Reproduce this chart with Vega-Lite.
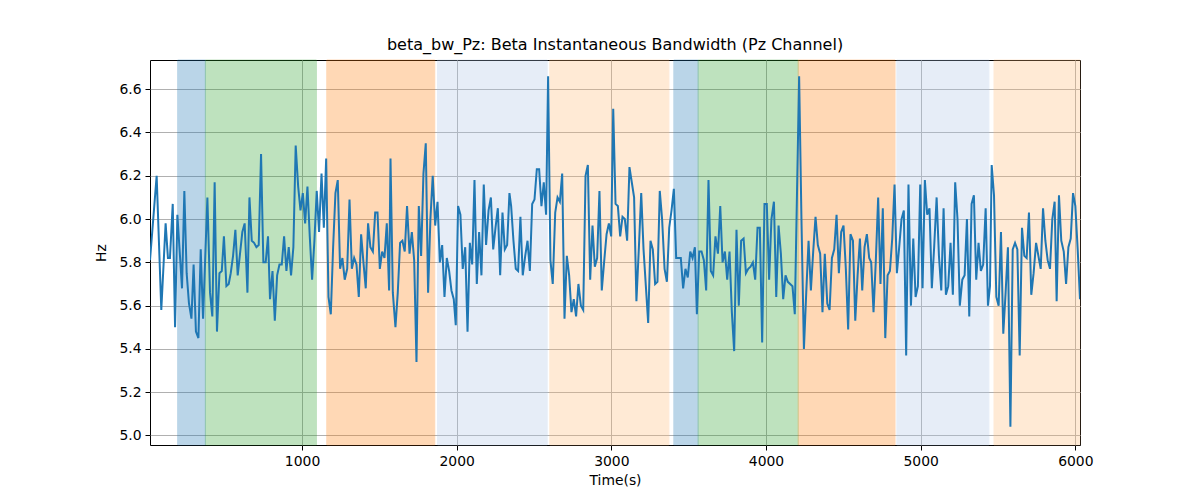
{
  "$schema": "https://vega.github.io/schema/vega-lite/v6.json",
  "width": 930,
  "height": 385,
  "autosize": {"type": "none"},
  "padding": {"left": 150, "top": 60, "right": 120, "bottom": 55},
  "background": "white",
  "title": {
    "text": "beta_bw_Pz: Beta Instantaneous Bandwidth (Pz Channel)",
    "font": "DejaVu Sans",
    "fontSize": 16,
    "fontWeight": "normal",
    "color": "black",
    "offset": 7
  },
  "datasets": {
    "spans": [
      {"start": 196, "end": 375, "band": "b1"},
      {"start": 375, "end": 1093, "band": "g1"},
      {"start": 1160, "end": 1858, "band": "o1"},
      {"start": 1876, "end": 2585, "band": "lb1"},
      {"start": 2602, "end": 3372, "band": "lo1"},
      {"start": 3404, "end": 3561, "band": "b2"},
      {"start": 3561, "end": 4208, "band": "g2"},
      {"start": 4208, "end": 4834, "band": "o2"},
      {"start": 4846, "end": 5441, "band": "lb2"},
      {"start": 5474, "end": 6030, "band": "lo2"}
    ],
    "series": [
      {"t": 17, "v": 5.81}, {"t": 60, "v": 6.20}, {"t": 90, "v": 5.58}, {"t": 118, "v": 5.98},
      {"t": 133, "v": 5.82}, {"t": 146, "v": 5.82}, {"t": 164, "v": 6.07}, {"t": 179, "v": 5.50},
      {"t": 194, "v": 6.02}, {"t": 224, "v": 5.68}, {"t": 239, "v": 6.13}, {"t": 254, "v": 5.75},
      {"t": 269, "v": 5.61}, {"t": 285, "v": 5.54}, {"t": 299, "v": 5.79}, {"t": 314, "v": 5.48},
      {"t": 330, "v": 5.45}, {"t": 345, "v": 5.86}, {"t": 360, "v": 5.54}, {"t": 388, "v": 6.10},
      {"t": 405, "v": 5.66}, {"t": 420, "v": 5.55}, {"t": 435, "v": 6.17}, {"t": 450, "v": 5.48},
      {"t": 466, "v": 5.75}, {"t": 481, "v": 5.76}, {"t": 495, "v": 5.92}, {"t": 511, "v": 5.69},
      {"t": 526, "v": 5.70}, {"t": 539, "v": 5.75}, {"t": 554, "v": 5.83}, {"t": 569, "v": 5.95},
      {"t": 584, "v": 5.74}, {"t": 599, "v": 5.84}, {"t": 614, "v": 5.94}, {"t": 629, "v": 5.98},
      {"t": 647, "v": 5.66}, {"t": 660, "v": 6.10}, {"t": 675, "v": 5.90}, {"t": 690, "v": 5.89},
      {"t": 705, "v": 5.87}, {"t": 720, "v": 5.88}, {"t": 735, "v": 6.30}, {"t": 750, "v": 5.80},
      {"t": 765, "v": 5.80}, {"t": 780, "v": 5.92}, {"t": 793, "v": 5.63}, {"t": 809, "v": 5.76},
      {"t": 824, "v": 5.53}, {"t": 839, "v": 5.74}, {"t": 854, "v": 5.79}, {"t": 869, "v": 5.79},
      {"t": 884, "v": 5.92}, {"t": 899, "v": 5.76}, {"t": 914, "v": 5.87}, {"t": 929, "v": 5.74},
      {"t": 944, "v": 5.87}, {"t": 959, "v": 6.34}, {"t": 975, "v": 6.15}, {"t": 990, "v": 6.04},
      {"t": 1005, "v": 6.12}, {"t": 1020, "v": 5.98}, {"t": 1035, "v": 6.15}, {"t": 1050, "v": 5.92},
      {"t": 1065, "v": 5.72}, {"t": 1080, "v": 5.90}, {"t": 1095, "v": 6.13}, {"t": 1110, "v": 5.94},
      {"t": 1126, "v": 6.21}, {"t": 1141, "v": 5.96}, {"t": 1156, "v": 6.28}, {"t": 1171, "v": 5.64},
      {"t": 1186, "v": 5.56}, {"t": 1201, "v": 5.87}, {"t": 1216, "v": 6.12}, {"t": 1231, "v": 6.18},
      {"t": 1246, "v": 5.77}, {"t": 1261, "v": 5.82}, {"t": 1276, "v": 5.72}, {"t": 1292, "v": 5.77},
      {"t": 1307, "v": 6.09}, {"t": 1322, "v": 5.77}, {"t": 1337, "v": 5.82}, {"t": 1352, "v": 5.79},
      {"t": 1367, "v": 5.64}, {"t": 1382, "v": 5.93}, {"t": 1397, "v": 5.80}, {"t": 1412, "v": 5.68},
      {"t": 1427, "v": 5.98}, {"t": 1442, "v": 5.87}, {"t": 1458, "v": 5.85}, {"t": 1473, "v": 6.03},
      {"t": 1488, "v": 6.03}, {"t": 1503, "v": 5.77}, {"t": 1518, "v": 5.85}, {"t": 1533, "v": 5.82},
      {"t": 1548, "v": 5.98}, {"t": 1563, "v": 5.67}, {"t": 1572, "v": 6.28}, {"t": 1587, "v": 5.66},
      {"t": 1604, "v": 5.50}, {"t": 1619, "v": 5.66}, {"t": 1634, "v": 5.89}, {"t": 1649, "v": 5.90},
      {"t": 1664, "v": 5.85}, {"t": 1679, "v": 6.06}, {"t": 1695, "v": 5.84}, {"t": 1710, "v": 5.94},
      {"t": 1725, "v": 5.81}, {"t": 1740, "v": 5.34}, {"t": 1755, "v": 6.06}, {"t": 1770, "v": 5.83},
      {"t": 1785, "v": 6.21}, {"t": 1800, "v": 6.35}, {"t": 1815, "v": 5.66}, {"t": 1830, "v": 6.00},
      {"t": 1845, "v": 6.20}, {"t": 1861, "v": 5.97}, {"t": 1876, "v": 6.08}, {"t": 1891, "v": 5.80},
      {"t": 1906, "v": 5.88}, {"t": 1921, "v": 5.64}, {"t": 1936, "v": 5.82}, {"t": 1951, "v": 5.76},
      {"t": 1966, "v": 5.67}, {"t": 1981, "v": 5.63}, {"t": 1994, "v": 5.51}, {"t": 2009, "v": 6.06},
      {"t": 2024, "v": 6.02}, {"t": 2039, "v": 5.77}, {"t": 2055, "v": 5.87}, {"t": 2070, "v": 5.48},
      {"t": 2085, "v": 5.89}, {"t": 2100, "v": 5.79}, {"t": 2115, "v": 6.18}, {"t": 2130, "v": 5.70},
      {"t": 2145, "v": 5.94}, {"t": 2160, "v": 5.74}, {"t": 2175, "v": 6.16}, {"t": 2190, "v": 5.88},
      {"t": 2206, "v": 6.04}, {"t": 2221, "v": 6.10}, {"t": 2236, "v": 5.86}, {"t": 2251, "v": 5.96},
      {"t": 2266, "v": 6.05}, {"t": 2281, "v": 5.74}, {"t": 2296, "v": 6.03}, {"t": 2311, "v": 5.86},
      {"t": 2326, "v": 5.88}, {"t": 2341, "v": 6.12}, {"t": 2352, "v": 6.06}, {"t": 2367, "v": 5.90},
      {"t": 2382, "v": 5.77}, {"t": 2397, "v": 5.76}, {"t": 2412, "v": 6.01}, {"t": 2427, "v": 5.74},
      {"t": 2443, "v": 5.83}, {"t": 2458, "v": 5.90}, {"t": 2473, "v": 5.76}, {"t": 2488, "v": 6.07},
      {"t": 2503, "v": 6.09}, {"t": 2518, "v": 6.23}, {"t": 2533, "v": 6.23}, {"t": 2548, "v": 6.06},
      {"t": 2563, "v": 6.17}, {"t": 2578, "v": 6.02}, {"t": 2591, "v": 6.66}, {"t": 2606, "v": 5.81},
      {"t": 2621, "v": 5.70}, {"t": 2637, "v": 6.03}, {"t": 2652, "v": 6.10}, {"t": 2667, "v": 6.08},
      {"t": 2682, "v": 6.21}, {"t": 2697, "v": 5.54}, {"t": 2712, "v": 5.83}, {"t": 2727, "v": 5.74},
      {"t": 2742, "v": 5.57}, {"t": 2757, "v": 5.63}, {"t": 2772, "v": 5.55}, {"t": 2787, "v": 5.70},
      {"t": 2803, "v": 5.60}, {"t": 2818, "v": 5.58}, {"t": 2833, "v": 6.20}, {"t": 2848, "v": 6.25},
      {"t": 2863, "v": 5.72}, {"t": 2878, "v": 5.97}, {"t": 2893, "v": 5.78}, {"t": 2908, "v": 5.82},
      {"t": 2923, "v": 6.13}, {"t": 2938, "v": 5.67}, {"t": 2953, "v": 5.80}, {"t": 2969, "v": 5.93},
      {"t": 2984, "v": 5.98}, {"t": 2999, "v": 5.92}, {"t": 3012, "v": 6.51}, {"t": 3027, "v": 6.07},
      {"t": 3042, "v": 6.06}, {"t": 3057, "v": 5.92}, {"t": 3072, "v": 6.01}, {"t": 3087, "v": 6.00},
      {"t": 3102, "v": 5.90}, {"t": 3117, "v": 6.24}, {"t": 3132, "v": 6.17}, {"t": 3147, "v": 6.10},
      {"t": 3162, "v": 5.62}, {"t": 3178, "v": 5.87}, {"t": 3193, "v": 6.12}, {"t": 3208, "v": 5.86},
      {"t": 3223, "v": 5.69}, {"t": 3238, "v": 5.52}, {"t": 3253, "v": 5.90}, {"t": 3268, "v": 5.86},
      {"t": 3283, "v": 5.70}, {"t": 3298, "v": 5.71}, {"t": 3313, "v": 6.13}, {"t": 3328, "v": 6.00},
      {"t": 3344, "v": 5.77}, {"t": 3359, "v": 5.71}, {"t": 3374, "v": 5.96}, {"t": 3389, "v": 6.04},
      {"t": 3404, "v": 6.14}, {"t": 3419, "v": 5.82}, {"t": 3434, "v": 5.82}, {"t": 3449, "v": 5.82},
      {"t": 3464, "v": 5.68}, {"t": 3479, "v": 5.77}, {"t": 3494, "v": 5.73}, {"t": 3510, "v": 5.85},
      {"t": 3525, "v": 5.82}, {"t": 3540, "v": 5.87}, {"t": 3553, "v": 5.56}, {"t": 3568, "v": 5.85},
      {"t": 3583, "v": 5.85}, {"t": 3598, "v": 5.81}, {"t": 3613, "v": 5.67}, {"t": 3628, "v": 6.18},
      {"t": 3643, "v": 5.76}, {"t": 3658, "v": 5.74}, {"t": 3673, "v": 5.92}, {"t": 3689, "v": 5.84},
      {"t": 3704, "v": 6.06}, {"t": 3719, "v": 5.80}, {"t": 3734, "v": 5.85}, {"t": 3749, "v": 5.72},
      {"t": 3764, "v": 5.85}, {"t": 3779, "v": 5.57}, {"t": 3794, "v": 5.39}, {"t": 3809, "v": 5.95},
      {"t": 3824, "v": 5.60}, {"t": 3839, "v": 5.90}, {"t": 3855, "v": 5.91}, {"t": 3870, "v": 5.75},
      {"t": 3885, "v": 5.77}, {"t": 3900, "v": 5.78}, {"t": 3915, "v": 5.80}, {"t": 3930, "v": 5.72},
      {"t": 3945, "v": 5.96}, {"t": 3960, "v": 5.96}, {"t": 3975, "v": 5.43}, {"t": 3990, "v": 6.07},
      {"t": 4005, "v": 6.07}, {"t": 4020, "v": 5.72}, {"t": 4035, "v": 6.00}, {"t": 4051, "v": 6.08},
      {"t": 4066, "v": 5.64}, {"t": 4081, "v": 5.97}, {"t": 4096, "v": 5.84}, {"t": 4111, "v": 5.63},
      {"t": 4126, "v": 5.74}, {"t": 4141, "v": 5.71}, {"t": 4156, "v": 5.70}, {"t": 4171, "v": 5.69},
      {"t": 4186, "v": 5.56}, {"t": 4214, "v": 6.66}, {"t": 4229, "v": 6.00}, {"t": 4245, "v": 5.40},
      {"t": 4260, "v": 5.66}, {"t": 4275, "v": 5.90}, {"t": 4290, "v": 5.67}, {"t": 4305, "v": 5.85},
      {"t": 4320, "v": 6.01}, {"t": 4335, "v": 5.88}, {"t": 4350, "v": 5.84}, {"t": 4365, "v": 5.57},
      {"t": 4380, "v": 5.84}, {"t": 4396, "v": 5.61}, {"t": 4411, "v": 5.58}, {"t": 4426, "v": 5.82},
      {"t": 4441, "v": 5.86}, {"t": 4456, "v": 6.02}, {"t": 4471, "v": 5.75}, {"t": 4486, "v": 5.94},
      {"t": 4501, "v": 5.97}, {"t": 4516, "v": 5.77}, {"t": 4531, "v": 5.49}, {"t": 4546, "v": 5.93},
      {"t": 4562, "v": 5.90}, {"t": 4577, "v": 5.53}, {"t": 4592, "v": 5.74}, {"t": 4607, "v": 5.91},
      {"t": 4622, "v": 5.67}, {"t": 4637, "v": 5.87}, {"t": 4652, "v": 5.93}, {"t": 4667, "v": 5.82},
      {"t": 4680, "v": 5.80}, {"t": 4695, "v": 5.57}, {"t": 4710, "v": 5.81}, {"t": 4725, "v": 6.10},
      {"t": 4740, "v": 5.70}, {"t": 4755, "v": 6.05}, {"t": 4771, "v": 5.45}, {"t": 4786, "v": 5.74},
      {"t": 4801, "v": 5.76}, {"t": 4816, "v": 5.91}, {"t": 4831, "v": 6.16}, {"t": 4846, "v": 5.75},
      {"t": 4861, "v": 5.87}, {"t": 4876, "v": 6.00}, {"t": 4891, "v": 6.04}, {"t": 4906, "v": 5.37},
      {"t": 4921, "v": 6.16}, {"t": 4937, "v": 5.60}, {"t": 4952, "v": 5.91}, {"t": 4967, "v": 5.64},
      {"t": 4982, "v": 5.69}, {"t": 4997, "v": 6.16}, {"t": 5012, "v": 5.68}, {"t": 5027, "v": 6.18},
      {"t": 5042, "v": 6.02}, {"t": 5057, "v": 6.05}, {"t": 5072, "v": 5.68}, {"t": 5087, "v": 5.87},
      {"t": 5103, "v": 6.10}, {"t": 5118, "v": 5.83}, {"t": 5133, "v": 5.67}, {"t": 5148, "v": 6.05},
      {"t": 5163, "v": 5.65}, {"t": 5178, "v": 5.69}, {"t": 5193, "v": 5.89}, {"t": 5208, "v": 5.65},
      {"t": 5223, "v": 6.17}, {"t": 5238, "v": 6.00}, {"t": 5253, "v": 5.60}, {"t": 5269, "v": 5.72},
      {"t": 5284, "v": 5.74}, {"t": 5299, "v": 6.00}, {"t": 5314, "v": 5.55}, {"t": 5329, "v": 6.07},
      {"t": 5344, "v": 6.11}, {"t": 5359, "v": 5.72}, {"t": 5374, "v": 5.89}, {"t": 5389, "v": 5.76},
      {"t": 5404, "v": 5.79}, {"t": 5420, "v": 6.05}, {"t": 5435, "v": 5.60}, {"t": 5448, "v": 5.69},
      {"t": 5459, "v": 6.25}, {"t": 5474, "v": 6.11}, {"t": 5489, "v": 5.64}, {"t": 5504, "v": 5.60},
      {"t": 5519, "v": 5.94}, {"t": 5534, "v": 5.47}, {"t": 5549, "v": 5.66}, {"t": 5564, "v": 5.87},
      {"t": 5580, "v": 5.04}, {"t": 5595, "v": 5.86}, {"t": 5610, "v": 5.89}, {"t": 5625, "v": 5.86},
      {"t": 5640, "v": 5.37}, {"t": 5655, "v": 5.96}, {"t": 5670, "v": 5.83}, {"t": 5685, "v": 5.82},
      {"t": 5700, "v": 6.03}, {"t": 5715, "v": 5.65}, {"t": 5730, "v": 5.75}, {"t": 5746, "v": 5.89},
      {"t": 5761, "v": 5.83}, {"t": 5776, "v": 5.77}, {"t": 5791, "v": 6.05}, {"t": 5806, "v": 5.90},
      {"t": 5821, "v": 5.81}, {"t": 5836, "v": 5.77}, {"t": 5851, "v": 6.00}, {"t": 5866, "v": 6.08},
      {"t": 5879, "v": 5.62}, {"t": 5894, "v": 6.11}, {"t": 5909, "v": 5.90}, {"t": 5925, "v": 5.85},
      {"t": 5940, "v": 5.70}, {"t": 5955, "v": 5.87}, {"t": 5970, "v": 5.91}, {"t": 5985, "v": 6.12},
      {"t": 6000, "v": 6.06}, {"t": 6015, "v": 5.86}, {"t": 6030, "v": 5.63}
    ]
  },
  "layer": [
    {
      "data": {"name": "spans"},
      "mark": {"type": "rect", "opacity": 0.3, "strokeWidth": 1},
      "encoding": {
        "x": {
          "field": "start",
          "type": "quantitative",
          "scale": {"domain": [17, 6030], "nice": false, "zero": false},
          "axis": {
            "title": "Time(s)",
            "values": [1000, 2000, 3000, 4000, 5000, 6000],
            "format": "d",
            "grid": true
          }
        },
        "x2": {"field": "end"},
        "color": {
          "field": "band",
          "type": "nominal",
          "legend": null,
          "scale": {
            "domain": ["b1", "g1", "o1", "lb1", "lo1", "b2", "g2", "o2", "lb2", "lo2"],
            "range": ["#1f77b4", "#2ca02c", "#ff7f0e", "#aec7e8", "#ffbb78", "#1f77b4", "#2ca02c", "#ff7f0e", "#aec7e8", "#ffbb78"]
          }
        },
        "stroke": {
          "field": "band",
          "type": "nominal",
          "legend": null,
          "scale": {
            "domain": ["b1", "g1", "o1", "lb1", "lo1", "b2", "g2", "o2", "lb2", "lo2"],
            "range": ["#1f77b4", "#2ca02c", "#ff7f0e", "#aec7e8", "#ffbb78", "#1f77b4", "#2ca02c", "#ff7f0e", "#aec7e8", "#ffbb78"]
          }
        }
      }
    },
    {
      "data": {"name": "series"},
      "mark": {"type": "line", "color": "#1f77b4", "strokeWidth": 2, "clip": true},
      "encoding": {
        "x": {"field": "t", "type": "quantitative"},
        "y": {
          "field": "v",
          "type": "quantitative",
          "scale": {"domain": [4.956, 6.735], "nice": false, "zero": false},
          "axis": {
            "title": "Hz",
            "values": [5.0, 5.2, 5.4, 5.6, 5.8, 6.0, 6.2, 6.4, 6.6],
            "format": ".1f",
            "grid": true
          }
        }
      }
    }
  ],
  "config": {
    "view": {"stroke": "black", "strokeWidth": 1},
    "axis": {
      "labelFont": "DejaVu Sans",
      "titleFont": "DejaVu Sans",
      "labelFontSize": 13.9,
      "titleFontSize": 13.9,
      "titleFontWeight": "normal",
      "labelColor": "black",
      "titleColor": "black",
      "domain": false,
      "tickColor": "black",
      "tickSize": 5,
      "labelPadding": 4,
      "gridColor": "#b0b0b0",
      "gridWidth": 1,
      "gridOpacity": 1
    },
    "axisX": {"titlePadding": 6},
    "axisY": {"titlePadding": 10}
  }
}
